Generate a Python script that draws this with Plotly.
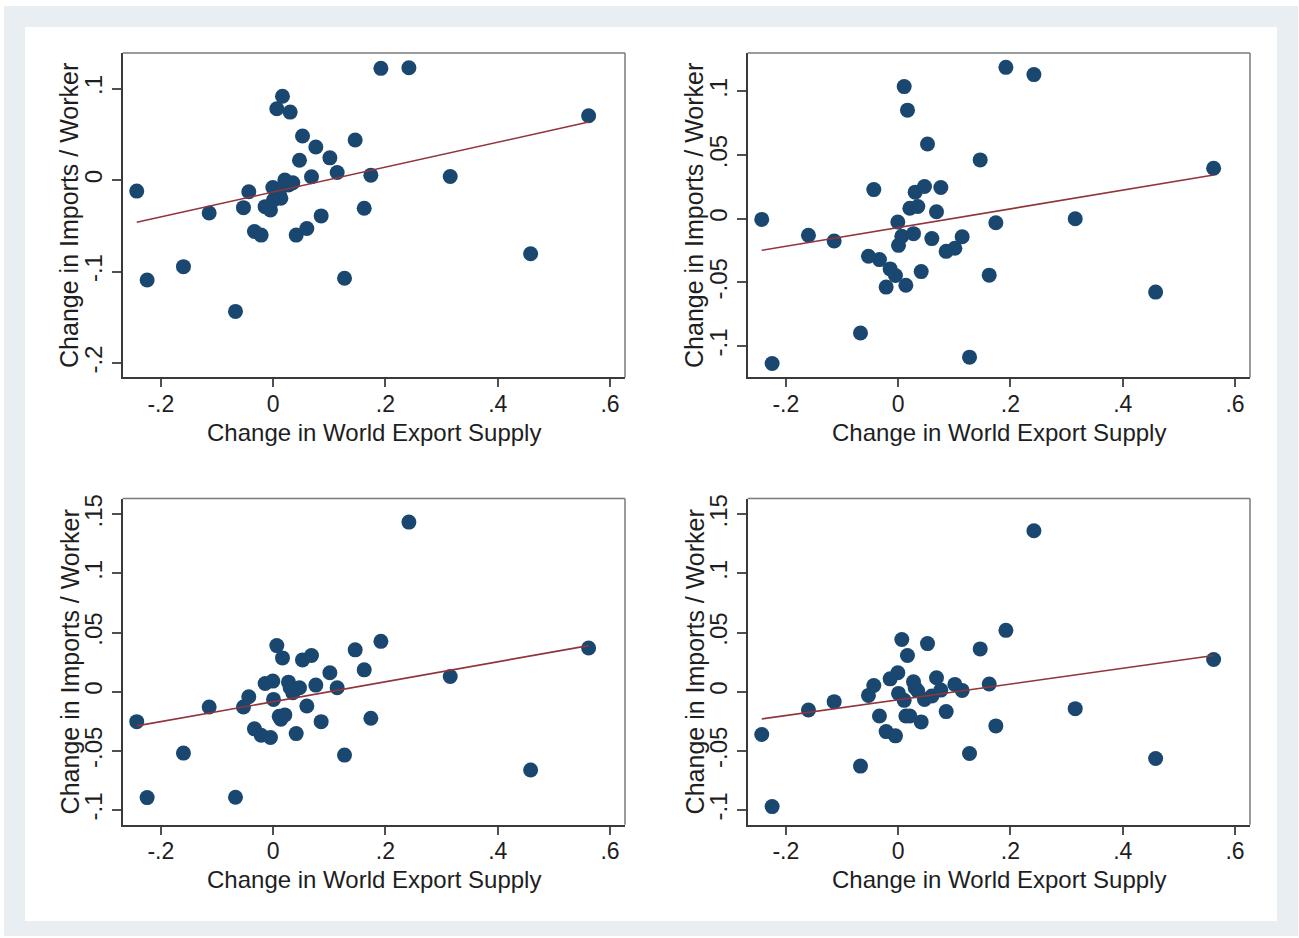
import plotly.graph_objects as go

W, H = 1299, 938

# ---------------- data ----------------
export_supply = [
    -0.2430, -0.2245, -0.1598, -0.1140, -0.0671, -0.0529, -0.0434, -0.0333,
    -0.0214, -0.0143, -0.0048, -0.0006, 0.0006, 0.0065, 0.0107, 0.0137,
    0.0166, 0.0208, 0.0273, 0.0303, 0.0350, 0.0410, 0.0469, 0.0523,
    0.0600, 0.0683, 0.0760, 0.0855, 0.1010, 0.1140, 0.1271, 0.1461,
    0.1622, 0.1740, 0.1919, 0.2418, 0.3154, 0.4586, 0.5619,
]

imports_p1 = [
    -0.0120, -0.1091, -0.0946, -0.0359, -0.1435, -0.0301, -0.0127, -0.0562,
    -0.0601, -0.0290, -0.0326, -0.0080, -0.0217, 0.0779, -0.0145, -0.0199,
    0.0917, 0.0000, -0.0054, 0.0743, -0.0029, -0.0601, 0.0217, 0.0482,
    -0.0529, 0.0036, 0.0362, -0.0391, 0.0243, 0.0083, -0.1072, 0.0438,
    -0.0308, 0.0054, 0.1221, 0.1228, 0.0040, -0.0804, 0.0703,
]

imports_p2 = [
    -0.0005, -0.1137, -0.0130, -0.0175, -0.0897, -0.0295, 0.0229, -0.0321,
    -0.0537, -0.0394, -0.0446, -0.0026, -0.0209, -0.0138, 0.1038, -0.0522,
    0.0853, 0.0083, -0.0117, 0.0209, 0.0096, -0.0415, 0.0253, 0.0587,
    -0.0156, 0.0055, 0.0245, -0.0256, -0.0232, -0.0141, -0.1087, 0.0462,
    -0.0443, -0.0031, 0.1189, 0.1132, 0.0000, -0.0576, 0.0396,
]

imports_p3 = [
    -0.0253, -0.0895, -0.0519, -0.0129, -0.0892, -0.0129, -0.0042, -0.0314,
    -0.0368, 0.0070, -0.0387, 0.0090, -0.0065, 0.0390, -0.0208, -0.0233,
    0.0286, -0.0196, 0.0081, 0.0034, -0.0008, -0.0354, 0.0034, 0.0269,
    -0.0121, 0.0306, 0.0056, -0.0253, 0.0160, 0.0034, -0.0536, 0.0354,
    0.0185, -0.0224, 0.0426, 0.1434, 0.0129, -0.0662, 0.0370,
]

imports_p4 = [
    -0.0362, -0.0971, -0.0154, -0.0084, -0.0629, -0.0031, 0.0053, -0.0205,
    -0.0337, 0.0109, -0.0373, 0.0160, -0.0014, 0.0441, -0.0073, -0.0205,
    0.0306, -0.0205, 0.0084, 0.0034, 0.0006, -0.0255, -0.0065, 0.0407,
    -0.0036, 0.0118, 0.0014, -0.0168, 0.0062, 0.0011, -0.0522, 0.0362,
    0.0065, -0.0289, 0.0519, 0.1361, -0.0143, -0.0564, 0.0272,
]

# fitted (linear fit) line end values
fit_x = [min(export_supply), max(export_supply)]
fit_p1 = [-0.0460, 0.0634]
fit_p2 = [-0.0248, 0.0344]
fit_p3 = [-0.0289, 0.0390]
fit_p4 = [-0.0230, 0.0306]

x_tickvals = [-0.2, 0, 0.2, 0.4, 0.6]
x_ticktext = ["-.2", "0", ".2", ".4", ".6"]
y_ticks_p1 = [-0.2, -0.1, 0, 0.1]
y_text_p1 = ["-.2", "-.1", "0", ".1"]
y_ticks_p2 = [-0.1, -0.05, 0, 0.05, 0.1]
y_text_p2 = ["-.1", "-.05", "0", ".05", ".1"]
y_ticks_p34 = [-0.1, -0.05, 0, 0.05, 0.1, 0.15]
y_text_p34 = ["-.1", "-.05", "0", ".05", ".1", ".15"]

x_title = "Change in World Export Supply"
y_title = "Change in Imports / Worker"

# ---------------- layout ----------------
FONT = "Liberation Sans, Arial, Helvetica, sans-serif"
TXT = "#1e1e1e"
NAVY = "#1a476f"
MAROON = "#90353b"

x_range = [-0.268, 0.6267]
panels = [
    dict(y=imports_p1, fit=fit_p1, yr=[-0.2156, 0.1388], yt=y_ticks_p1, yl=y_text_p1,
         px=(122.7, 625.0), py=(49.3, 375.0)),
    dict(y=imports_p2, fit=fit_p2, yr=[-0.1246, 0.1301], yt=y_ticks_p2, yl=y_text_p2,
         px=(747.7, 1250.0), py=(49.3, 375.0)),
    dict(y=imports_p3, fit=fit_p3, yr=[-0.1125, 0.1633], yt=y_ticks_p34, yl=y_text_p34,
         px=(122.7, 625.0), py=(496.7, 824.3)),
    dict(y=imports_p4, fit=fit_p4, yr=[-0.1125, 0.1633], yt=y_ticks_p34, yl=y_text_p34,
         px=(747.7, 1250.0), py=(496.7, 824.3)),
]

fig = go.Figure()
layout = dict(
    width=W, height=H, autosize=False,
    margin=dict(l=0, r=0, t=0, b=0, pad=0),
    paper_bgcolor="white", plot_bgcolor="white",
    showlegend=False,
    font=dict(family=FONT, color=TXT),
)
shapes = [
    dict(type="rect", xref="paper", yref="paper", x0=4 / W, x1=1298 / W,
         y0=1 - 936 / H, y1=1 - 2 / H, fillcolor="#e8eef1", line=dict(width=0), layer="below"),
    dict(type="rect", xref="paper", yref="paper", x0=25 / W, x1=1277 / W,
         y0=1 - 921 / H, y1=1 - 23 / H, fillcolor="white", line=dict(width=0), layer="below"),
]
annotations = []

for i, p in enumerate(panels, start=1):
    sfx = "" if i == 1 else str(i)
    xa, ya = "x" + sfx, "y" + sfx
    xdom = [p["px"][0] / W, p["px"][1] / W]
    ydom = [1 - p["py"][1] / H, 1 - p["py"][0] / H]

    fig.add_trace(go.Scatter(
        x=export_supply, y=p["y"], mode="markers", xaxis=xa, yaxis=ya,
        marker=dict(size=15, color=NAVY, line=dict(width=0)),
        hoverinfo="skip"))
    fig.add_trace(go.Scatter(
        x=fit_x, y=p["fit"], mode="lines", xaxis=xa, yaxis=ya,
        line=dict(color=MAROON, width=1.6), hoverinfo="skip"))

    layout["xaxis" + sfx] = dict(
        domain=xdom, range=x_range, anchor=ya, tickmode="array",
        tickvals=x_tickvals, ticktext=x_ticktext, ticks="outside", ticklen=8,
        tickwidth=1.5, tickcolor="#505050", showline=True, linecolor="#3a3a3a",
        linewidth=2, showgrid=False, zeroline=False, fixedrange=True,
        tickfont=dict(size=23, family=FONT, color=TXT), ticklabelstandoff=-3)
    layout["yaxis" + sfx] = dict(
        domain=ydom, range=p["yr"], anchor=xa, tickmode="array",
        tickvals=p["yt"], ticktext=p["yl"], ticks="outside", ticklen=9,
        tickwidth=1.5, tickcolor="#505050", showline=True, linecolor="#3a3a3a",
        linewidth=2, showgrid=False, zeroline=False, fixedrange=True,
        tickangle=-90, tickfont=dict(size=24, family=FONT, color=TXT))

    # top / right frame of plot region
    shapes.append(dict(type="line", xref=xa + " domain", yref=ya + " domain",
                       x0=0, x1=1, y0=1, y1=1, line=dict(color="#7a7a7a", width=1.5)))
    shapes.append(dict(type="line", xref=xa + " domain", yref=ya + " domain",
                       x0=1, x1=1, y0=0, y1=1, line=dict(color="#7a7a7a", width=1.5)))

    cx = (p["px"][0] + p["px"][1]) / 2
    cy = (p["py"][0] + p["py"][1]) / 2
    annotations.append(dict(
        text=x_title, xref="paper", yref="paper", x=cx / W, y=1 - (p["py"][1] + 55) / H,
        xanchor="center", yanchor="middle", showarrow=False,
        font=dict(size=24, family=FONT, color=TXT)))
    annotations.append(dict(
        text=y_title, xref="paper", yref="paper", x=(p["px"][0] - 53) / W, y=1 - cy / H,
        xanchor="center", yanchor="middle", showarrow=False, textangle=-90,
        font=dict(size=25, family=FONT, color=TXT)))

layout["shapes"] = shapes
layout["annotations"] = annotations
fig.update_layout(**layout)

pin_script = (
    "document.documentElement.style.margin='0';"
    "document.body.style.margin='0';"
    "document.body.style.overflow='hidden';"
    "var gd=document.getElementsByClassName('plotly-graph-div')[0];"
    "gd.style.position='fixed';gd.style.left='0px';gd.style.top='0px';"
)
fig.write_html("out.html", config={"displayModeBar": False}, post_script=pin_script)
